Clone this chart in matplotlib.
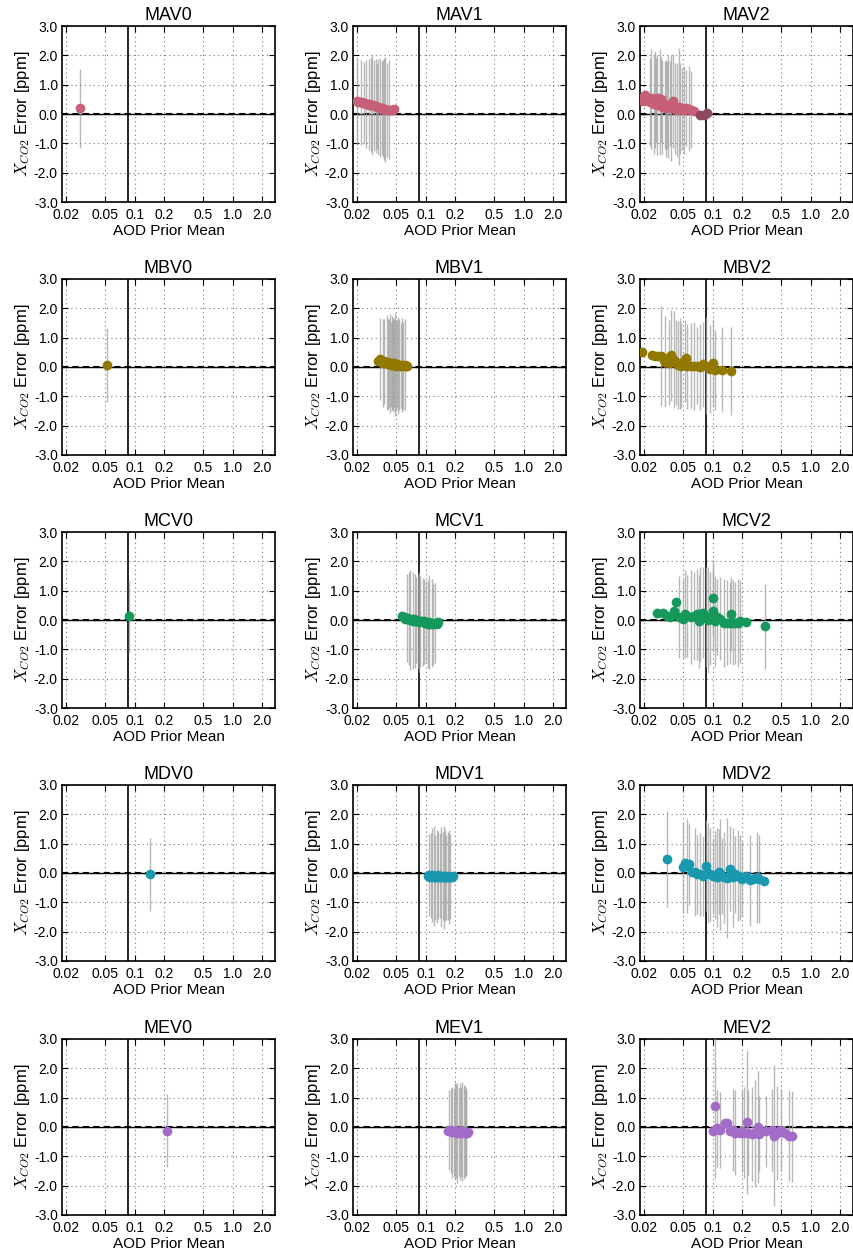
import matplotlib
matplotlib.use("Agg")
import matplotlib.pyplot as plt
import numpy as np

plt.rcParams["font.family"] = ["Liberation Sans", "DejaVu Sans"]
plt.rcParams["mathtext.fontset"] = "cm"
plt.rcParams["axes.unicode_minus"] = False

# ---- axis settings -------------------------------------------------------
x_ticks = [0.02, 0.05, 0.1, 0.2, 0.5, 1.0, 2.0]
x_tick_labels = ["0.02", "0.05", "0.1", "0.2", "0.5", "1.0", "2.0"]
y_ticks = [-3, -2, -1, 0, 1, 2, 3]
y_tick_labels = ["-3.0", "-2.0", "-1.0", "0.0", "1.0", "2.0", "3.0"]
aod_threshold = 0.085

mode_colors = {
    "MA": "#c65f78",
    "MB": "#917800",
    "MC": "#14995a",
    "MD": "#1a98b0",
    "ME": "#a46cc8",
}

# ---- MAV ------------------------------------------------------------------
mav0_x = [0.028]
mav0_y = [0.20]
mav0_e = [1.35]

mav1_x = [0.0200, 0.0205, 0.0212, 0.0220, 0.0228, 0.0235, 0.0240, 0.0248, 0.0255,
          0.0262, 0.0268, 0.0275, 0.0282, 0.0290, 0.0300, 0.0310, 0.0320, 0.0330,
          0.0340, 0.0350, 0.0360, 0.0370, 0.0380, 0.0390, 0.0400, 0.0420, 0.0440,
          0.0460, 0.0480]
mav1_y = [0.45, 0.42, 0.40, 0.40, 0.38, 0.37, 0.36, 0.35, 0.34,
          0.33, 0.32, 0.32, 0.30, 0.30, 0.28, 0.27, 0.25, 0.24,
          0.22, 0.20, 0.20, 0.18, 0.17, 0.16, 0.15, 0.15, 0.14,
          0.15, 0.16]
mav1_e = [1.50, 0.00, 0.00, 1.45, 0.00, 1.40, 0.00, 1.50, 0.00,
          1.55, 0.00, 1.60, 1.70, 0.00, 1.55, 1.60, 1.45, 1.65,
          1.70, 0.00, 1.60, 1.65, 1.75, 1.80, 1.60, 1.70, 0.00,
          0.00, 0.00]

mav2_x = [0.0195, 0.0200, 0.0205, 0.0212, 0.0220, 0.0228, 0.0235, 0.0242, 0.0250,
          0.0258, 0.0265, 0.0272, 0.0280, 0.0288, 0.0295, 0.0305, 0.0315, 0.0325,
          0.0335, 0.0345, 0.0355, 0.0365, 0.0380, 0.0395, 0.0410, 0.0430, 0.0450,
          0.0470, 0.0490, 0.0510, 0.0540, 0.0570, 0.0600, 0.0640]
mav2_y = [0.45, 0.60, 0.65, 0.50, 0.45, 0.40, 0.50, 0.55, 0.35,
          0.50, 0.45, 0.30, 0.55, 0.40, 0.50, 0.25, 0.35, 0.30,
          0.20, 0.30, 0.25, 0.35, 0.20, 0.45, 0.20, 0.15, 0.25,
          0.20, 0.18, 0.15, 0.20, 0.18, 0.15, 0.10]
mav2_e = [0.00, 0.00, 0.00, 0.00, 0.00, 1.50, 1.70, 0.00, 1.70,
          1.65, 1.45, 1.70, 0.00, 1.80, 1.45, 1.60, 0.00, 1.50,
          1.65, 1.50, 1.75, 1.45, 1.80, 1.60, 1.55, 1.60, 2.00,
          1.55, 1.40, 1.50, 1.30, 1.45, 1.30, 0.00]
mav2_low_x = [0.075, 0.082, 0.088]
mav2_low_y = [-0.02, -0.02, 0.05]
mav2_low_e = [0.0, 0.0, 0.0]

# ---- MBV ------------------------------------------------------------------
mbv0_x = [0.052]
mbv0_y = [0.07]
mbv0_e = [1.25]

mbv1_x = [0.0330, 0.0340, 0.0355, 0.0370, 0.0380, 0.0390, 0.0400, 0.0410, 0.0420,
          0.0430, 0.0440, 0.0450, 0.0460, 0.0470, 0.0480, 0.0490, 0.0500, 0.0510,
          0.0525, 0.0540, 0.0555, 0.0570, 0.0590, 0.0610, 0.0630, 0.0650]
mbv1_y = [0.22, 0.28, 0.18, 0.15, 0.20, 0.12, 0.18, 0.10, 0.15,
          0.12, 0.08, 0.14, 0.10, 0.06, 0.12, 0.08, 0.05, 0.10,
          0.06, 0.08, 0.04, 0.06, 0.04, 0.08, 0.03, 0.05]
mbv1_e = [0.00, 1.40, 0.00, 1.50, 1.45, 0.00, 1.60, 1.55, 1.50,
          1.70, 1.45, 1.60, 1.55, 1.60, 1.50, 1.75, 1.55, 1.50,
          1.65, 1.55, 1.45, 1.60, 1.50, 1.55, 0.00, 0.00]

mbv2_x = [0.0192, 0.0240, 0.0260, 0.0280, 0.0300, 0.0320, 0.0330, 0.0350, 0.0360,
          0.0380, 0.0400, 0.0420, 0.0440, 0.0460, 0.0480, 0.0520, 0.0540, 0.0550,
          0.0600, 0.0650, 0.0700, 0.0750, 0.0800, 0.0850, 0.0950, 0.1000, 0.1050,
          0.1250, 0.1550]
mbv2_y = [0.52, 0.40, 0.38, 0.38, 0.37, 0.25, 0.18, 0.30, 0.15,
          0.40, 0.25, 0.15, 0.08, 0.12, 0.05, 0.20, 0.30, 0.02,
          0.05, 0.03, 0.05, 0.00, 0.10, 0.05, -0.08, 0.15, -0.10,
          -0.10, -0.12]
mbv2_e = [0.00, 0.00, 0.00, 0.00, 1.70, 0.00, 1.55, 0.00, 1.45,
          1.55, 1.65, 1.45, 1.50, 1.55, 1.45, 1.40, 0.00, 1.45,
          1.45, 1.50, 1.30, 1.45, 1.45, 1.65, 1.50, 1.50, 1.35,
          1.45, 1.50]

# ---- MCV ------------------------------------------------------------------
mcv0_x = [0.087]
mcv0_y = [0.12]
mcv0_e = [1.20]

mcv1_x = [0.058, 0.060, 0.062, 0.064, 0.066, 0.068, 0.070, 0.072, 0.074,
          0.076, 0.078, 0.080, 0.082, 0.084, 0.086, 0.088, 0.090, 0.093,
          0.096, 0.099, 0.102, 0.105, 0.108, 0.112, 0.116, 0.120, 0.125,
          0.130, 0.135]
mcv1_y = [0.15, 0.10, 0.05, 0.08, 0.02, 0.05, 0.00, 0.03, -0.02,
          0.02, -0.03, 0.00, -0.05, -0.02, -0.08, -0.05, -0.03, -0.08,
          -0.05, -0.10, -0.08, -0.12, -0.08, -0.12, -0.10, -0.13, -0.10,
          -0.12, -0.08]
mcv1_e = [0.00, 0.00, 0.00, 1.50, 0.00, 1.60, 1.70, 0.00, 1.65,
          0.00, 1.60, 1.45, 0.00, 1.60, 1.70, 1.55, 0.00, 1.50,
          1.45, 0.00, 1.40, 1.50, 1.60, 0.00, 1.50, 1.40, 1.35,
          0.00, 0.00]

mcv2_x = [0.027, 0.031, 0.034, 0.037, 0.040, 0.042, 0.045, 0.050, 0.052,
          0.055, 0.060, 0.065, 0.070, 0.072, 0.075, 0.080, 0.085, 0.090,
          0.095, 0.100, 0.102, 0.105, 0.110, 0.120, 0.130, 0.140, 0.150,
          0.155, 0.160, 0.170, 0.180, 0.190, 0.220, 0.340]
mcv2_y = [0.25, 0.25, 0.15, 0.10, 0.30, 0.60, 0.10, 0.05, 0.20,
          0.15, 0.10, 0.15, 0.20, -0.05, 0.20, 0.25, 0.10, 0.00,
          0.05, 0.75, 0.30, -0.05, 0.10, 0.05, -0.10, -0.10, -0.10,
          0.20, -0.10, -0.10, -0.10, -0.05, -0.08, -0.22]
mcv2_e = [0.00, 0.00, 0.00, 0.00, 0.00, 0.00, 1.40, 1.35, 1.50,
          1.40, 1.60, 1.50, 1.55, 1.60, 1.60, 1.55, 1.70, 1.80,
          1.60, 1.30, 1.40, 1.55, 1.30, 1.40, 1.50, 1.45, 1.40,
          1.25, 1.45, 1.40, 1.50, 1.40, 0.00, 1.45]

# ---- MDV ------------------------------------------------------------------
mdv0_x = [0.145]
mdv0_y = [-0.05]
mdv0_e = [1.25]

mdv1_x = [0.105, 0.108, 0.111, 0.114, 0.117, 0.120, 0.123, 0.126, 0.129,
          0.132, 0.135, 0.138, 0.141, 0.144, 0.147, 0.150, 0.153, 0.156,
          0.159, 0.162, 0.165, 0.168, 0.172, 0.176, 0.180, 0.185, 0.190]
mdv1_y = [-0.10, -0.08, -0.12, -0.10, -0.08, -0.12, -0.10, -0.14, -0.10,
          -0.12, -0.08, -0.13, -0.10, -0.14, -0.12, -0.10, -0.15, -0.12,
          -0.10, -0.14, -0.12, -0.10, -0.15, -0.12, -0.14, -0.12, -0.10]
mdv1_e = [0.00, 1.40, 0.00, 1.45, 1.60, 0.00, 1.70, 1.45, 0.00,
          1.60, 1.50, 0.00, 1.45, 1.70, 0.00, 1.50, 1.75, 0.00,
          1.55, 1.45, 0.00, 1.50, 1.60, 1.45, 0.00, 0.00, 0.00]

mdv2_x = [0.034, 0.050, 0.052, 0.055, 0.058, 0.062, 0.066, 0.070, 0.075,
          0.080, 0.085, 0.090, 0.095, 0.100, 0.105, 0.110, 0.115, 0.120,
          0.125, 0.130, 0.140, 0.150, 0.160, 0.170, 0.180, 0.190, 0.200,
          0.220, 0.240, 0.260, 0.280, 0.300, 0.330]
mdv2_y = [0.48, 0.20, 0.35, 0.25, 0.30, 0.05, 0.02, -0.05, -0.05,
          -0.10, 0.25, 0.00, -0.05, -0.10, -0.08, -0.15, 0.05, -0.05,
          -0.10, -0.15, -0.18, 0.15, -0.15, -0.05, -0.10, -0.15, -0.20,
          -0.10, -0.25, -0.20, -0.15, -0.20, -0.28]
mdv2_e = [1.65, 1.55, 0.00, 1.60, 1.40, 0.00, 1.50, 1.35, 1.40,
          1.35, 1.55, 1.70, 1.60, 1.30, 1.50, 1.70, 1.45, 1.90,
          1.30, 1.55, 2.05, 1.45, 1.70, 1.30, 1.55, 1.45, 1.30,
          0.00, 1.55, 0.00, 1.55, 1.50, 0.00]

# ---- MEV ------------------------------------------------------------------
mev0_x = [0.215]
mev0_y = [-0.12]
mev0_e = [1.25]

mev1_x = [0.170, 0.174, 0.178, 0.182, 0.186, 0.190, 0.194, 0.198, 0.202,
          0.206, 0.210, 0.214, 0.218, 0.222, 0.226, 0.230, 0.235, 0.240,
          0.245, 0.250, 0.255, 0.260, 0.265, 0.270]
mev1_y = [-0.12, -0.10, -0.15, -0.12, -0.18, -0.14, -0.16, -0.12, -0.18,
          -0.15, -0.20, -0.16, -0.18, -0.14, -0.20, -0.17, -0.15, -0.20,
          -0.18, -0.16, -0.20, -0.18, -0.22, -0.18]
mev1_e = [0.00, 1.35, 0.00, 1.45, 1.55, 0.00, 1.50, 1.65, 0.00,
          1.60, 1.70, 0.00, 1.50, 1.65, 0.00, 1.55, 1.70, 0.00,
          1.60, 1.55, 1.45, 1.50, 0.00, 0.00]

mev2_x = [0.100, 0.105, 0.110, 0.120, 0.135, 0.140, 0.150, 0.160, 0.170,
          0.190, 0.200, 0.210, 0.225, 0.230, 0.250, 0.270, 0.290, 0.300,
          0.350, 0.400, 0.420, 0.450, 0.500, 0.550, 0.600, 0.650]
mev2_y = [-0.12, 0.72, -0.05, -0.10, 0.15, 0.12, -0.15, -0.10, -0.20,
          -0.20, -0.15, -0.20, 0.18, -0.20, -0.25, -0.20, 0.00, -0.25,
          -0.15, -0.10, -0.30, -0.20, -0.10, -0.20, -0.30, -0.32]
mev2_e = [0.00, 2.45, 1.30, 1.30, 0.00, 0.00, 0.00, 1.40, 1.45,
          0.00, 1.40, 1.55, 2.45, 1.45, 1.60, 1.80, 1.90, 1.30,
          1.20, 1.40, 2.40, 1.60, 1.40, 0.00, 1.55, 1.55]

panels = [
    ("MAV0", "MA", [(mav0_x, mav0_y, mav0_e)]),
    ("MAV1", "MA", [(mav1_x, mav1_y, mav1_e)]),
    ("MAV2", "MA", [(mav2_x, mav2_y, mav2_e)]),
    ("MBV0", "MB", [(mbv0_x, mbv0_y, mbv0_e)]),
    ("MBV1", "MB", [(mbv1_x, mbv1_y, mbv1_e)]),
    ("MBV2", "MB", [(mbv2_x, mbv2_y, mbv2_e)]),
    ("MCV0", "MC", [(mcv0_x, mcv0_y, mcv0_e)]),
    ("MCV1", "MC", [(mcv1_x, mcv1_y, mcv1_e)]),
    ("MCV2", "MC", [(mcv2_x, mcv2_y, mcv2_e)]),
    ("MDV0", "MD", [(mdv0_x, mdv0_y, mdv0_e)]),
    ("MDV1", "MD", [(mdv1_x, mdv1_y, mdv1_e)]),
    ("MDV2", "MD", [(mdv2_x, mdv2_y, mdv2_e)]),
    ("MEV0", "ME", [(mev0_x, mev0_y, mev0_e)]),
    ("MEV1", "ME", [(mev1_x, mev1_y, mev1_e)]),
    ("MEV2", "ME", [(mev2_x, mev2_y, mev2_e)]),
]

# ---- figure ---------------------------------------------------------------
W, H = 854, 1254
fig = plt.figure(figsize=(W / 100, H / 100), dpi=100)

col_left = [62, 353, 640]
row_top = [26, 279, 532, 785, 1039]
ax_w, ax_h = 213, 176

bar_style = dict(fmt="none", ecolor="#a0a0a0", elinewidth=1.0, alpha=0.75,
                 capsize=0, zorder=3)
marker_size = 7

for idx, (title, mode, series) in enumerate(panels):
    r, c = divmod(idx, 3)
    ax = fig.add_axes([col_left[c] / W, 1 - (row_top[r] + ax_h) / H, ax_w / W, ax_h / H])
    ax.set_xscale("log")
    ax.set_xlim(0.0182, 2.69)
    ax.set_ylim(-3, 3)

    ax.grid(True, which="major", linestyle=(0, (1, 3)), color="#777777", linewidth=0.8)
    ax.set_axisbelow(True)

    ax.axvline(aod_threshold, color="black", linewidth=1.2, zorder=2)
    ax.axhline(0, color="black", linewidth=1.0, zorder=2)
    ax.axhline(0, color="black", linewidth=1.5, linestyle=(0, (3, 2)), zorder=2)

    for sx, sy, se in series:
        ax.errorbar(sx, sy, yerr=se, **bar_style)
        ax.plot(sx, sy, "o", color=mode_colors[mode], markersize=marker_size,
                markeredgewidth=0, zorder=4)
    if title == "MAV2":
        ax.errorbar(mav2_low_x, mav2_low_y, yerr=mav2_low_e, **bar_style)
        ax.plot(mav2_low_x, mav2_low_y, "o", color="#8e4a5c", markersize=marker_size,
                markeredgewidth=0, zorder=4)

    ax.set_xticks(x_ticks)
    ax.set_xticklabels(x_tick_labels)
    ax.xaxis.set_minor_locator(matplotlib.ticker.NullLocator())
    ax.set_yticks(y_ticks)
    ax.set_yticklabels(y_tick_labels)
    ax.tick_params(direction="in", length=4, width=0.8, labelsize=10, pad=3,
                   top=True, right=True, colors="black")
    ax.tick_params(axis="x", pad=4)

    for sp in ax.spines.values():
        sp.set_linewidth(1.2)

    ax.set_title(title, fontsize=13, pad=4)
    ax.set_xlabel("AOD Prior Mean", fontsize=11, labelpad=2)
    ax.set_ylabel(r"$X_{CO2}$ Error [ppm]", fontsize=12, labelpad=1)

fig.savefig("out.png", dpi=100)
